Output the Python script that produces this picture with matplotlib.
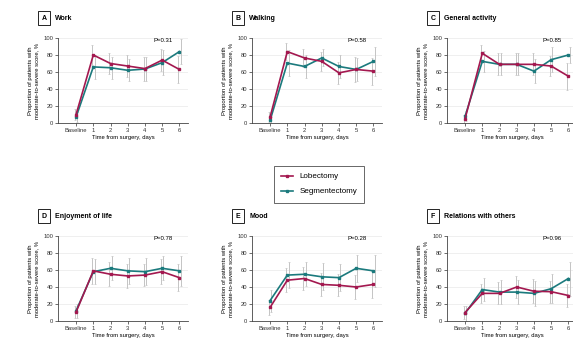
import matplotlib.pyplot as plt

plt.rcParams['font.family'] = ['Liberation Sans', 'DejaVu Sans']

x_labels = ['Baseline', '1', '2', '3', '4', '5', '6']
positions = list(range(len(x_labels)))

letters = ['A', 'B', 'C', 'D', 'E', 'F']
titles = ['Work', 'Walking', 'General activity', 'Enjoyment of life',
          'Mood', 'Relations with others']
p_values = ['P=0.31', 'P=0.58', 'P=0.85', 'P=0.78', 'P=0.28', 'P=0.96']

# proportion (%) with moderate-to-severe score, and CI half-widths
work_lob = [10, 80, 70, 67, 64, 74, 63]
work_seg = [7, 66, 65, 62, 63.5, 71, 84]
work_lob_err = [7, 12, 12, 13, 14, 13, 16]
work_seg_err = [6, 14, 13, 13, 14, 15, 15]

walk_lob = [7, 84, 76.5, 72.5, 59, 63, 61]
walk_seg = [3, 70.5, 66.5, 76.5, 66.5, 63, 72.5]
walk_lob_err = [6, 10, 11, 11, 13, 15, 16]
walk_seg_err = [4, 15, 14, 10, 14, 14, 17]

activity_lob = [5, 82, 69, 69, 69, 67, 55]
activity_seg = [8, 72.5, 69, 69, 61, 74.5, 80]
activity_lob_err = [5, 10, 13, 13, 13, 12, 16]
activity_seg_err = [6, 12, 13, 13, 14, 15, 9]

enjoy_lob = [10.5, 59, 55, 53, 54, 58, 51]
enjoy_seg = [12, 58, 62, 59, 58, 62, 59]
enjoy_lob_err = [7, 15, 14, 14, 13, 15, 16]
enjoy_seg_err = [8, 15, 14, 15, 16, 14, 18]

mood_lob = [16, 48, 50, 43, 42, 40, 43]
mood_seg = [24, 54, 55, 52, 51, 62, 59]
mood_lob_err = [9, 14, 13, 13, 13, 14, 16]
mood_seg_err = [13, 15, 14, 16, 16, 16, 19]

relations_lob = [10, 32.5, 32.5, 40, 35, 34.5, 30]
relations_seg = [9, 37, 34, 34, 32.5, 38, 50]
relations_lob_err = [8, 11, 13, 13, 14, 13, 14]
relations_seg_err = [9, 14, 14, 14, 15, 17, 20]

panels = [
    (work_lob, work_lob_err, work_seg, work_seg_err),
    (walk_lob, walk_lob_err, walk_seg, walk_seg_err),
    (activity_lob, activity_lob_err, activity_seg, activity_seg_err),
    (enjoy_lob, enjoy_lob_err, enjoy_seg, enjoy_seg_err),
    (mood_lob, mood_lob_err, mood_seg, mood_seg_err),
    (relations_lob, relations_lob_err, relations_seg, relations_seg_err),
]

lob_color = '#a3184f'
seg_color = '#1b7a7d'
err_color = '#c4c4c4'

W, H = 573, 339
fig = plt.figure(figsize=(W / 100, H / 100), dpi=100)

col_left = [58, 252, 447]
row_bottom = [123, 321]
ax_w, ax_h = 130, 85

for i, (lob, lob_err, seg, seg_err) in enumerate(panels):
    row, col = divmod(i, 3)
    left = col_left[col]
    bottom = row_bottom[row]
    ax = fig.add_axes([left / W, (H - bottom) / H, ax_w / W, ax_h / H])

    ax.errorbar([p - 0.07 for p in positions], lob, yerr=lob_err, fmt='none',
                ecolor=err_color, elinewidth=0.7, capsize=1, capthick=0.5, zorder=1)
    ax.errorbar([p + 0.07 for p in positions], seg, yerr=seg_err, fmt='none',
                ecolor=err_color, elinewidth=0.7, capsize=1, capthick=0.5, zorder=1)
    ax.plot(positions, lob, color=lob_color, marker='s', ms=2, lw=1.2,
            label='Lobectomy', zorder=3, clip_on=False)
    ax.plot(positions, seg, color=seg_color, marker='s', ms=2, lw=1.2,
            label='Segmentectomy', zorder=2, clip_on=False)

    ax.set_xlim(-1.05, 6.5)
    ax.set_ylim(0, 100)
    ax.set_xticks(positions)
    ax.set_xticklabels(x_labels)
    ax.set_yticks(range(0, 101, 20))
    ax.grid(axis='y', color='#ececec', lw=0.6)
    ax.set_axisbelow(True)
    for side in ['top', 'right']:
        ax.spines[side].set_visible(False)
    for side in ['left', 'bottom']:
        ax.spines[side].set_color('#444444')
        ax.spines[side].set_linewidth(0.6)
    ax.tick_params(labelsize=4.2, length=2, width=0.5, pad=1.5, colors='#333333')
    ax.set_xlabel('Time from surgery, days', fontsize=4.2, labelpad=1.5)
    ax.set_ylabel('Proportion of patients with\nmoderate-to-severe score, %',
                  fontsize=4.2, labelpad=3, linespacing=1.2)

    ax.text(5.6, 97, p_values[i], ha='right', va='center', fontsize=4.3)

    title_y = (H - (bottom - ax_h - 20)) / H
    fig.text((left - 14) / W, title_y, letters[i], ha='center', va='center',
             fontsize=5, fontweight='bold',
             bbox=dict(boxstyle='square,pad=0.5', fc='white', ec='black', lw=0.6))
    fig.text((left - 3) / W, title_y, titles[i], ha='left', va='center',
             fontsize=5, fontweight='bold')

handles, labels = fig.axes[0].get_legend_handles_labels()
leg = fig.legend(handles, labels, loc='center', bbox_to_anchor=(0.557, 0.457),
                 fontsize=5.8, frameon=True, fancybox=False, edgecolor='#222222',
                 handlelength=1.4, borderpad=0.9, labelspacing=0.9,
                 handletextpad=0.8, borderaxespad=0)
leg.get_frame().set_linewidth(0.6)

fig.savefig('out.png', dpi=100)
